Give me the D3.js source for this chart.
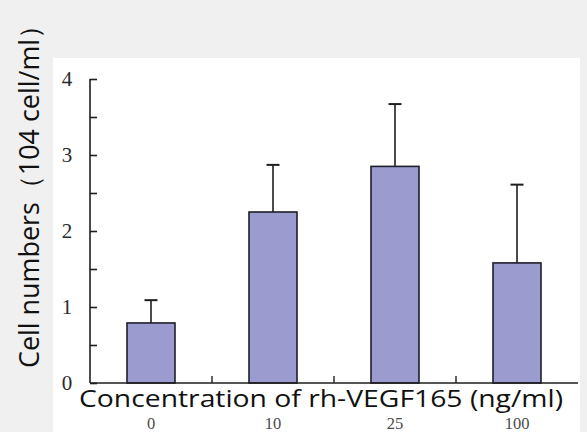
<!DOCTYPE html>
<html><head><meta charset="utf-8">
<script src="https://cdn.jsdelivr.net/npm/d3@7"></script>
<style>body{margin:0;background:#f0f0f0;}svg{display:block;}</style>
</head><body>
<script>
const categories = ["0", "10", "25", "100"];
const means = [0.79, 2.25, 2.85, 1.58];
const errors = [0.30, 0.62, 0.82, 1.03];
const yTicks = [0, 1, 2, 3, 4];
const yMinorTicks = [0, 0.5, 1, 1.5, 2, 2.5, 3, 3.5, 4];
const xTitle = "Concentration of rh-VEGF165 (ng/ml)";
const yTitle = "Cell numbers（104 cell/ml）";

const W = 587, H = 432;
const svg = d3.select("body").append("svg").attr("width", W).attr("height", H);
svg.append("rect").attr("width", W).attr("height", H).attr("fill", "#f0f0f0");
svg.append("rect").attr("x", 53).attr("y", 58).attr("width", 527).attr("height", H - 58).attr("fill", "#ffffff");

const xb = d3.scaleBand().domain(categories).range([90, 578]).padding(0);
const y = d3.scaleLinear().domain([0, 4]).range([383, 79]);

const g = svg.append("g");

// bars
g.selectAll("rect.bar").data(categories).join("rect")
  .attr("class", "bar")
  .attr("x", d => xb(d) + xb.bandwidth() / 2 - 24)
  .attr("width", 48)
  .attr("y", (d, i) => y(means[i]))
  .attr("height", (d, i) => y(0) - y(means[i]))
  .attr("fill", "#9b9bd0")
  .attr("stroke", "#1e1e2a")
  .attr("stroke-width", 1.6);

// error bars
const eg = g.selectAll("g.err").data(categories).join("g").attr("class", "err");
eg.append("line")
  .attr("x1", d => xb(d) + xb.bandwidth() / 2)
  .attr("x2", d => xb(d) + xb.bandwidth() / 2)
  .attr("y1", (d, i) => y(means[i]))
  .attr("y2", (d, i) => y(means[i] + errors[i]))
  .attr("stroke", "#1e1e1e").attr("stroke-width", 1.6);
eg.append("line")
  .attr("x1", d => xb(d) + xb.bandwidth() / 2 - 6.5)
  .attr("x2", d => xb(d) + xb.bandwidth() / 2 + 6.5)
  .attr("y1", (d, i) => y(means[i] + errors[i]))
  .attr("y2", (d, i) => y(means[i] + errors[i]))
  .attr("stroke", "#1e1e1e").attr("stroke-width", 2);

// y axis
const yAxis = d3.axisRight(y).tickValues(yMinorTicks).tickSize(7).tickFormat("");
const ya = g.append("g").attr("transform", "translate(90,0)").call(yAxis);
ya.select(".domain").attr("d", `M0,${y(4)}V${y(0)}`).attr("stroke", "#1e1e1e").attr("stroke-width", 1.6);
ya.selectAll(".tick line").attr("stroke", "#1e1e1e").attr("stroke-width", 1.6);

// y tick labels
g.selectAll("text.ylab").data(yTicks).join("text")
  .attr("class", "ylab")
  .attr("x", 67).attr("y", d => y(d) + 7)
  .attr("text-anchor", "middle")
  .attr("font-family", "Liberation Serif, serif")
  .attr("font-size", 21)
  .attr("fill", "#2a2a2a")
  .text(d => d);

// x axis
const xAxis = d3.axisTop(xb).tickSize(0).tickFormat("");
const xa = g.append("g").attr("transform", "translate(0,383)").call(xAxis);
xa.select(".domain").attr("d", "M90,0H578").attr("stroke", "#1e1e1e").attr("stroke-width", 1.6);
// separator ticks between categories
g.selectAll("line.sep").data(categories.slice(1)).join("line")
  .attr("class", "sep")
  .attr("x1", d => xb(d)).attr("x2", d => xb(d))
  .attr("y1", 383).attr("y2", 376)
  .attr("stroke", "#1e1e1e").attr("stroke-width", 1.4);

// x tick labels
g.selectAll("text.xlab").data(categories).join("text")
  .attr("class", "xlab")
  .attr("x", d => xb(d) + xb.bandwidth() / 2)
  .attr("y", 429)
  .attr("text-anchor", "middle")
  .attr("font-family", "Liberation Serif, serif")
  .attr("font-size", 16.5)
  .attr("fill", "#4a4a4a")
  .text(d => d);

// x title
svg.append("text")
  .attr("x", 79).attr("y", 407)
  .attr("font-family", "Open Sans, sans-serif")
  .attr("font-size", 24)
  .attr("fill", "#111")
  .attr("textLength", 484).attr("lengthAdjust", "spacingAndGlyphs")
  .text(xTitle);

// y title
svg.append("text")
  .attr("transform", "translate(39,368) rotate(-90)")
  .attr("font-family", "Open Sans, sans-serif")
  .attr("font-size", 27)
  .attr("fill", "#111")
  .attr("textLength", 356).attr("lengthAdjust", "spacingAndGlyphs")
  .text(yTitle);
</script>
</body></html>
